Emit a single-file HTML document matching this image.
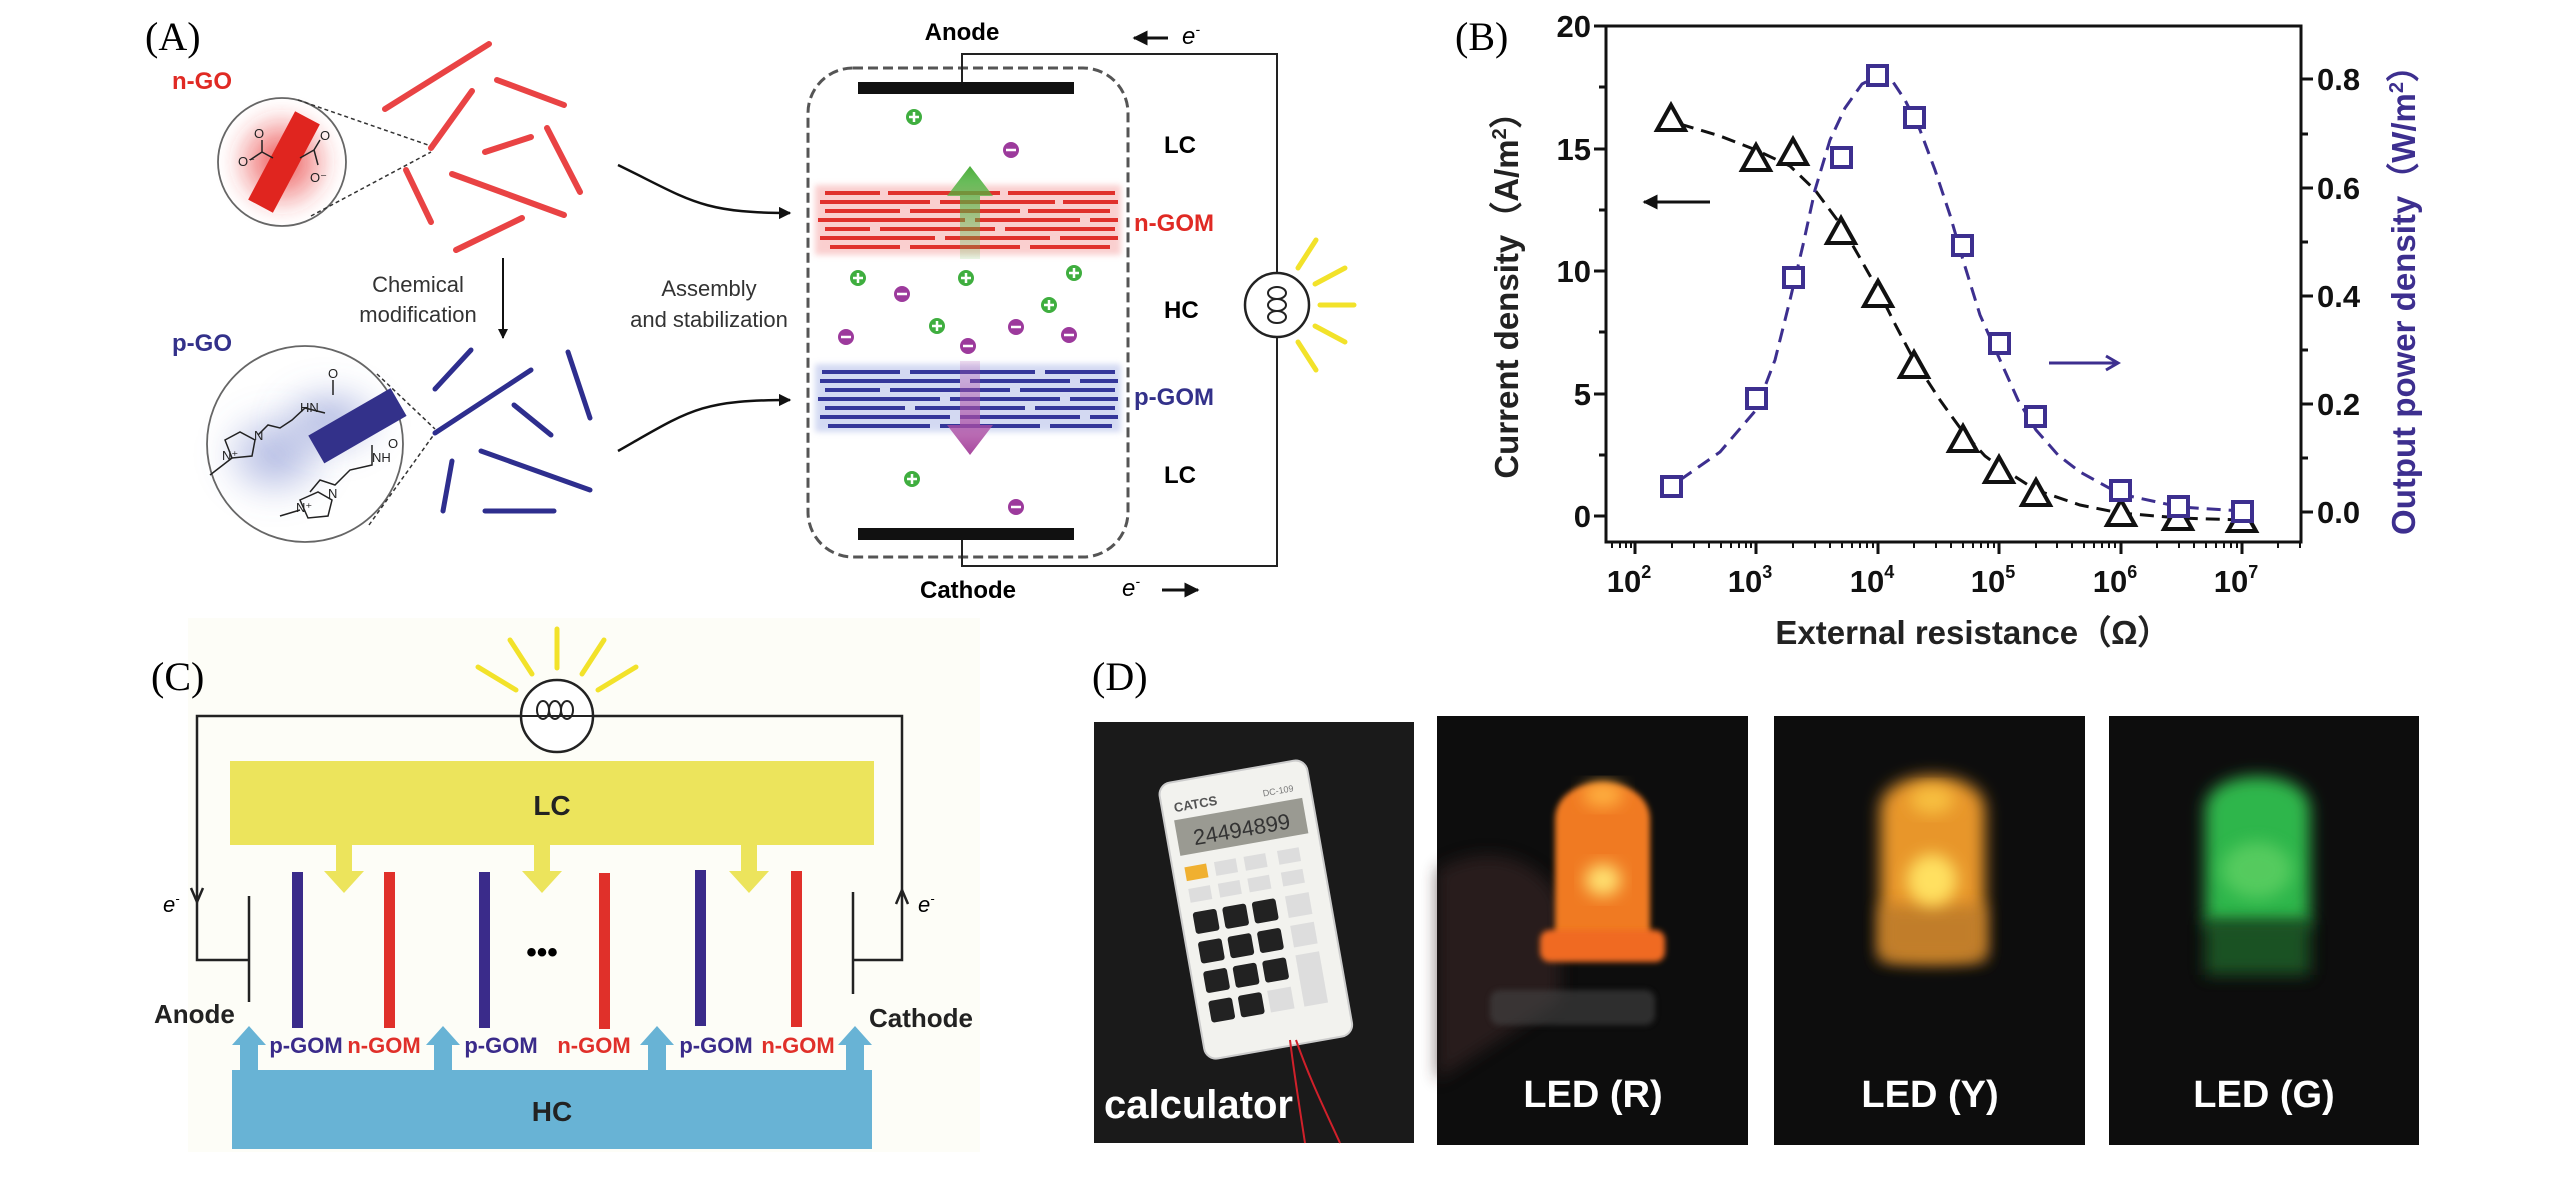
<!DOCTYPE html>
<html><head><meta charset="utf-8"><style>
html,body{margin:0;padding:0;background:#fff}
svg{display:block}
text{font-family:"Liberation Sans",Arial,sans-serif}
.serif{font-family:"Liberation Serif","Times New Roman",serif}
</style></head><body>
<svg width="2567" height="1181" viewBox="0 0 2567 1181" xmlns="http://www.w3.org/2000/svg">
<defs>
<filter id="bl3" x="-20%" y="-20%" width="140%" height="140%"><feGaussianBlur stdDeviation="3"/></filter>
<filter id="bl8" x="-30%" y="-30%" width="160%" height="160%"><feGaussianBlur stdDeviation="8"/></filter>
<filter id="bl14" x="-50%" y="-50%" width="200%" height="200%"><feGaussianBlur stdDeviation="14"/></filter>
<radialGradient id="redglow"><stop offset="0" stop-color="#e83030" stop-opacity=".85"/><stop offset="1" stop-color="#e83030" stop-opacity="0"/></radialGradient>
<radialGradient id="blueglow"><stop offset="0" stop-color="#6c7cc8" stop-opacity=".6"/><stop offset="1" stop-color="#6c7cc8" stop-opacity="0"/></radialGradient>
<linearGradient id="garr" x1="0" y1="1" x2="0" y2="0"><stop offset="0" stop-color="#5cbf4a" stop-opacity=".15"/><stop offset="1" stop-color="#4cae3c"/></linearGradient>
<linearGradient id="parr" x1="0" y1="0" x2="0" y2="1"><stop offset="0" stop-color="#b85ab0" stop-opacity=".2"/><stop offset="1" stop-color="#a8489f"/></linearGradient>
<marker id="ah" viewBox="0 0 10 10" refX="9" refY="5" markerWidth="5" markerHeight="5" orient="auto"><path d="M0,0 L10,5 L0,10 z" fill="#111"/></marker>
</defs>

<!-- ================= PANEL A ================= -->
<text x="145" y="50" class="serif" font-size="40">(A)</text>
<text x="172" y="89" font-size="24" font-weight="bold" fill="#e02a24">n-GO</text>
<text x="172" y="351" font-size="24" font-weight="bold" fill="#33318a">p-GO</text>

<!-- n-GO circle -->
<circle cx="282" cy="162" r="55" fill="url(#redglow)" filter="url(#bl8)"/>
<circle cx="282" cy="162" r="64" fill="none" stroke="#666" stroke-width="1.8"/>
<rect x="270" y="112" width="28" height="100" fill="#e0251f" transform="rotate(28 284 162)"/>
<g stroke="#222" stroke-width="1.5" fill="none"><path d="M250 160 L262 152 L262 140 M262 152 L273 158"/><path d="M300 158 L314 150 L320 140 M314 150 L318 165"/></g>
<g font-size="13" fill="#222"><text x="254" y="138">O</text><text x="238" y="166">O⁻</text><text x="320" y="140">O</text><text x="310" y="182">O⁻</text></g>
<line x1="298" y1="100" x2="431" y2="146" stroke="#333" stroke-width="1.5" stroke-dasharray="4,3"/>
<line x1="311" y1="216" x2="431" y2="152" stroke="#333" stroke-width="1.5" stroke-dasharray="4,3"/>
<!-- red sticks -->
<g stroke="#e8393a" stroke-width="6" stroke-linecap="round" opacity=".95">
<line x1="385" y1="109" x2="489" y2="44"/><line x1="497" y1="80" x2="564" y2="105"/>
<line x1="431" y1="148" x2="472" y2="91"/><line x1="485" y1="152" x2="531" y2="137"/>
<line x1="547" y1="128" x2="580" y2="192"/><line x1="406" y1="170" x2="431" y2="222"/>
<line x1="452" y1="174" x2="564" y2="215"/><line x1="456" y1="250" x2="522" y2="218"/>
</g>
<!-- chemical modification -->
<line x1="503" y1="258" x2="503" y2="338" stroke="#111" stroke-width="2" marker-end="url(#ah)"/>
<text x="418" y="292" font-size="22" text-anchor="middle" fill="#333">Chemical</text>
<text x="418" y="322" font-size="22" text-anchor="middle" fill="#333">modification</text>

<!-- p-GO circle -->
<ellipse cx="275" cy="455" rx="60" ry="50" fill="url(#blueglow)" filter="url(#bl14)"/>
<ellipse cx="330" cy="420" rx="60" ry="40" fill="url(#blueglow)" filter="url(#bl14)"/>
<circle cx="305" cy="444" r="98" fill="none" stroke="#666" stroke-width="1.8"/>
<rect x="310" y="410" width="95" height="32" fill="#33318a" transform="rotate(-30 357 426)"/>
<g stroke="#222" stroke-width="1.5" fill="none">
<path d="M325 413 L305 408 L292 420 L280 428 L268 425 L258 435"/>
<path d="M333 395 L333 380"/><path d="M372 445 L372 465 L350 470 L335 485 L320 480 L310 492"/>
<path d="M225 440 L240 432 L255 440 L252 456 L232 458 z"/>
<path d="M300 500 L318 492 L332 500 L328 516 L308 518 z"/>
<path d="M232 458 L210 475"/><path d="M300 510 L280 516"/>
</g>
<g font-size="13" fill="#222"><text x="300" y="412">HN</text><text x="328" y="378">O</text><text x="372" y="462">NH</text><text x="388" y="448">O</text><text x="222" y="460">N⁺</text><text x="254" y="440">N</text><text x="296" y="512">N⁺</text><text x="328" y="498">N</text></g>
<line x1="377" y1="374" x2="435" y2="429" stroke="#333" stroke-width="1.5" stroke-dasharray="4,3"/>
<line x1="369" y1="525" x2="435" y2="433" stroke="#333" stroke-width="1.5" stroke-dasharray="4,3"/>
<!-- blue sticks -->
<g stroke="#2e2e8e" stroke-width="5" stroke-linecap="round">
<line x1="435" y1="433" x2="531" y2="370"/><line x1="435" y1="389" x2="471" y2="350"/>
<line x1="568" y1="352" x2="590" y2="418"/><line x1="514" y1="405" x2="551" y2="435"/>
<line x1="481" y1="451" x2="590" y2="490"/><line x1="452" y1="461" x2="443" y2="511"/>
<line x1="485" y1="511" x2="554" y2="511"/>
</g>

<!-- assembly -->
<text x="709" y="296" font-size="22" text-anchor="middle" fill="#333">Assembly</text>
<text x="709" y="327" font-size="22" text-anchor="middle" fill="#333">and stabilization</text>
<path d="M618 165 C690 200 700 213 790 213" fill="none" stroke="#111" stroke-width="2.5" marker-end="url(#ah)"/>
<path d="M618 451 C690 410 700 400 790 400" fill="none" stroke="#111" stroke-width="2.5" marker-end="url(#ah)"/>

<!-- cell -->
<rect x="808" y="68" width="320" height="489" rx="45" fill="none" stroke="#555" stroke-width="3" stroke-dasharray="10,5"/>
<rect x="858" y="82" width="216" height="12" fill="#111"/>
<rect x="858" y="528" width="216" height="12" fill="#111"/>
<polyline points="962,82 962,54 1277,54 1277,273" fill="none" stroke="#222" stroke-width="2"/>
<polyline points="962,540 962,566 1277,566 1277,337" fill="none" stroke="#222" stroke-width="2"/>
<text x="962" y="40" font-size="24" font-weight="bold" text-anchor="middle">Anode</text>
<text x="968" y="598" font-size="24" font-weight="bold" text-anchor="middle">Cathode</text>
<line x1="1168" y1="38" x2="1134" y2="38" stroke="#111" stroke-width="3" marker-end="url(#ah)"/>
<text x="1182" y="44" font-size="24" font-style="italic">e<tspan font-size="14" dy="-10">-</tspan></text>
<text x="1122" y="596" font-size="24" font-style="italic">e<tspan font-size="14" dy="-10">-</tspan></text>
<line x1="1162" y1="590" x2="1198" y2="590" stroke="#111" stroke-width="3" marker-end="url(#ah)"/>
<!-- lamp A -->
<circle cx="1277" cy="305" r="32" fill="#fff" stroke="#222" stroke-width="2.5"/>
<g fill="none" stroke="#222" stroke-width="2"><ellipse cx="1277" cy="293" rx="9" ry="6"/><ellipse cx="1277" cy="305" rx="9" ry="6"/><ellipse cx="1277" cy="317" rx="9" ry="6"/></g>
<g stroke="#f2e22a" stroke-width="5" stroke-linecap="round">
<line x1="1298" y1="268" x2="1316" y2="240"/><line x1="1315" y1="284" x2="1345" y2="268"/><line x1="1320" y1="305" x2="1354" y2="305"/><line x1="1315" y1="326" x2="1345" y2="342"/><line x1="1298" y1="342" x2="1316" y2="370"/>
</g>
<text x="1164" y="153" font-size="24" font-weight="bold">LC</text>
<text x="1164" y="318" font-size="24" font-weight="bold">HC</text>
<text x="1164" y="483" font-size="24" font-weight="bold">LC</text>
<text x="1134" y="231" font-size="24" font-weight="bold" fill="#e02a24">n-GOM</text>
<text x="1134" y="405" font-size="24" font-weight="bold" fill="#33318a">p-GOM</text>

<!-- n-GOM stack -->
<rect x="815" y="185" width="306" height="70" fill="#f6a9a9" opacity=".55" filter="url(#bl3)"/>
<g stroke="#e0302c" stroke-width="4">
<line x1="825" y1="193" x2="880" y2="193"/><line x1="888" y1="193" x2="1000" y2="193"/><line x1="1008" y1="193" x2="1115" y2="193"/>
<line x1="820" y1="202" x2="930" y2="202"/><line x1="940" y1="202" x2="1055" y2="202"/><line x1="1063" y1="202" x2="1118" y2="202"/>
<line x1="825" y1="211" x2="900" y2="211"/><line x1="910" y1="211" x2="1020" y2="211"/><line x1="1028" y1="211" x2="1110" y2="211"/>
<line x1="818" y1="220" x2="965" y2="220"/><line x1="975" y1="220" x2="1080" y2="220"/><line x1="1090" y1="220" x2="1118" y2="220"/>
<line x1="825" y1="229" x2="870" y2="229"/><line x1="880" y1="229" x2="995" y2="229"/><line x1="1005" y1="229" x2="1115" y2="229"/>
<line x1="820" y1="238" x2="935" y2="238"/><line x1="945" y1="238" x2="1050" y2="238"/><line x1="1060" y1="238" x2="1118" y2="238"/>
<line x1="830" y1="247" x2="900" y2="247"/><line x1="910" y1="247" x2="1020" y2="247"/><line x1="1030" y1="247" x2="1110" y2="247"/>
</g>
<!-- p-GOM stack -->
<rect x="815" y="364" width="306" height="68" fill="#b7c1ea" opacity=".6" filter="url(#bl3)"/>
<g stroke="#34369a" stroke-width="4">
<line x1="822" y1="372" x2="900" y2="372"/><line x1="910" y1="372" x2="1035" y2="372"/><line x1="1045" y1="372" x2="1115" y2="372"/>
<line x1="820" y1="381" x2="960" y2="381"/><line x1="970" y1="381" x2="1070" y2="381"/><line x1="1080" y1="381" x2="1118" y2="381"/>
<line x1="825" y1="390" x2="880" y2="390"/><line x1="890" y1="390" x2="1010" y2="390"/><line x1="1020" y1="390" x2="1115" y2="390"/>
<line x1="818" y1="399" x2="940" y2="399"/><line x1="950" y1="399" x2="1060" y2="399"/><line x1="1070" y1="399" x2="1118" y2="399"/>
<line x1="825" y1="408" x2="905" y2="408"/><line x1="915" y1="408" x2="1025" y2="408"/><line x1="1035" y1="408" x2="1115" y2="408"/>
<line x1="820" y1="417" x2="950" y2="417"/><line x1="960" y1="417" x2="1080" y2="417"/><line x1="1090" y1="417" x2="1118" y2="417"/>
<line x1="828" y1="426" x2="930" y2="426"/><line x1="940" y1="426" x2="1040" y2="426"/><line x1="1050" y1="426" x2="1112" y2="426"/>
</g>
<!-- green / purple arrows -->
<path d="M960 259 L960 196 L947 196 L970 166 L993 196 L980 196 L980 259 z" fill="url(#garr)"/>
<path d="M960 361 L960 425 L947 425 L970 455 L993 425 L980 425 L980 361 z" fill="url(#parr)"/>
<!-- ions -->
<g fill="#3fae3f">
<circle cx="914" cy="117" r="8"/><circle cx="858" cy="278" r="8"/><circle cx="966" cy="278" r="8"/><circle cx="1074" cy="273" r="8"/><circle cx="1049" cy="305" r="8"/><circle cx="937" cy="326" r="8"/><circle cx="912" cy="479" r="8"/>
</g>
<g stroke="#fff" stroke-width="2.5">
<path d="M909 117h10M914 112v10M853 278h10M858 273v10M961 278h10M966 273v10M1069 273h10M1074 268v10M1044 305h10M1049 300v10M932 326h10M937 321v10M907 479h10M912 474v10"/>
</g>
<g fill="#9c3a9c">
<circle cx="1011" cy="150" r="8"/><circle cx="902" cy="294" r="8"/><circle cx="846" cy="337" r="8"/><circle cx="1016" cy="327" r="8"/><circle cx="1069" cy="335" r="8"/><circle cx="968" cy="346" r="8"/><circle cx="1016" cy="507" r="8"/>
</g>
<g stroke="#fff" stroke-width="2.5">
<path d="M1006 150h10M897 294h10M841 337h10M1011 327h10M1064 335h10M963 346h10M1011 507h10"/>
</g>

<!-- ================= PANEL B ================= -->
<text x="1455" y="50" class="serif" font-size="40">(B)</text>
<rect x="1606" y="26" width="695" height="516" fill="none" stroke="#111" stroke-width="3"/>
<!-- left ticks -->
<g stroke="#111" stroke-width="3">
<path d="M1594 26h12M1594 149h12M1594 271h12M1594 394h12M1594 516h12"/>
<path d="M1599 87h7M1599 210h7M1599 332h7M1599 455h7"/>
<path d="M2301 79h12M2301 188h12M2301 296h12M2301 404h12M2301 512h12"/>
<path d="M2301 134h7M2301 242h7M2301 350h7M2301 458h7"/>
<path d="M1635 542v12M1756 542v12M1878 542v12M1999 542v12M2121 542v12M2242 542v12"/>
</g>
<g stroke="#111" stroke-width="2">
<path d="M1612 542v6M1620 542v6M1626 542v6M1631 542v6M1672 542v6M1694 542v6M1709 542v6M1721 542v6M1731 542v6M1739 542v6M1746 542v6M1751 542v6M1793 542v6M1815 542v6M1830 542v6M1842 542v6M1852 542v6M1860 542v6M1867 542v6M1873 542v6M1914 542v6M1936 542v6M1951 542v6M1963 542v6M1973 542v6M1981 542v6M1988 542v6M1994 542v6M2036 542v6M2057 542v6M2072 542v6M2084 542v6M2094 542v6M2102 542v6M2109 542v6M2115 542v6M2157 542v6M2179 542v6M2194 542v6M2206 542v6M2216 542v6M2224 542v6M2231 542v6M2237 542v6M2278 542v6M2300 542v6"/>
</g>
<g font-size="31" font-weight="bold" text-anchor="end" fill="#111">
<text x="1591" y="37">20</text><text x="1591" y="160">15</text><text x="1591" y="282">10</text><text x="1591" y="405">5</text><text x="1591" y="527">0</text>
</g>
<g font-size="31" font-weight="bold" fill="#111">
<text x="2317" y="90">0.8</text><text x="2317" y="199">0.6</text><text x="2317" y="307">0.4</text><text x="2317" y="415">0.2</text><text x="2317" y="523">0.0</text>
</g>
<g font-size="31" font-weight="bold" text-anchor="middle" fill="#111">
<text x="1629" y="592">10<tspan font-size="18" dy="-14">2</tspan></text>
<text x="1750" y="592">10<tspan font-size="18" dy="-14">3</tspan></text>
<text x="1872" y="592">10<tspan font-size="18" dy="-14">4</tspan></text>
<text x="1993" y="592">10<tspan font-size="18" dy="-14">5</tspan></text>
<text x="2115" y="592">10<tspan font-size="18" dy="-14">6</tspan></text>
<text x="2236" y="592">10<tspan font-size="18" dy="-14">7</tspan></text>
</g>
<text x="1973" y="644" font-size="33" font-weight="bold" text-anchor="middle" fill="#222">External resistance（Ω）</text>
<text transform="translate(1518 287) rotate(-90)" font-size="33" font-weight="bold" text-anchor="middle" fill="#222">Current density（A/m<tspan font-size="20" dy="-12">2</tspan><tspan dy="12">）</tspan></text>
<text transform="translate(2415 292) rotate(-90)" font-size="33" font-weight="bold" text-anchor="middle" fill="#3d2f8f">Output power density（W/m<tspan font-size="20" dy="-12">2</tspan><tspan dy="12">）</tspan></text>
<!-- fits -->
<polyline points="1680,124 1720,136 1756,150 1790,166 1815,190 1841,225 1860,258 1878,290 1896,326 1914,360 1940,400 1963,432 1985,456 2000,467 2036,490 2080,505 2120,513 2180,518 2242,520" fill="none" stroke="#111" stroke-width="3" stroke-dasharray="14,8"/>
<polyline points="1680,480 1720,452 1756,410 1775,360 1790,300 1803,245 1815,190 1830,140 1845,108 1862,84 1878,76 1893,82 1905,100 1920,130 1935,170 1950,215 1963,260 1980,315 2000,360 2018,400 2036,430 2058,455 2080,472 2120,494 2180,507 2242,511" fill="none" stroke="#3d2f8f" stroke-width="3" stroke-dasharray="14,8"/>
<!-- triangles -->
<g fill="#fff" stroke="#111" stroke-width="4" stroke-linejoin="miter">
<path d="M1671 105 l14 25 h-28 z"/><path d="M1756 145 l14 25 h-28 z"/><path d="M1793 139 l14 25 h-28 z"/><path d="M1841 218 l14 25 h-28 z"/><path d="M1878 281 l14 25 h-28 z"/><path d="M1914 352 l14 25 h-28 z"/><path d="M1963 426 l14 25 h-28 z"/><path d="M1999 457 l14 25 h-28 z"/><path d="M2036 480 l14 25 h-28 z"/><path d="M2121 500 l14 25 h-28 z"/><path d="M2178 504 l14 25 h-28 z"/><path d="M2242 506 l14 25 h-28 z"/>
</g>
<!-- squares -->
<g fill="#fff" stroke="#3d2f8f" stroke-width="4">
<rect x="1662" y="477" width="19" height="19"/><rect x="1747" y="389" width="19" height="19"/><rect x="1784" y="268" width="19" height="19"/><rect x="1832" y="148" width="19" height="19"/><rect x="1868" y="66" width="19" height="19"/><rect x="1905" y="108" width="19" height="19"/><rect x="1953" y="236" width="19" height="19"/><rect x="1990" y="334" width="19" height="19"/><rect x="2026" y="407" width="19" height="19"/><rect x="2111" y="481" width="19" height="19"/><rect x="2169" y="497" width="19" height="19"/><rect x="2233" y="502" width="19" height="19"/>
</g>
<line x1="1710" y1="202" x2="1644" y2="202" stroke="#111" stroke-width="3" marker-end="url(#ah)"/>
<line x1="2049" y1="363" x2="2117" y2="363" stroke="#3d2f8f" stroke-width="3"/>
<path d="M2106 356 L2118 363 L2106 370" fill="none" stroke="#3d2f8f" stroke-width="3"/>

<!-- ================= PANEL C ================= -->
<rect x="188" y="618" width="792" height="534" fill="#fdfdf7"/>
<text x="151" y="690" class="serif" font-size="40">(C)</text>
<g stroke="#f2e22a" stroke-width="5" stroke-linecap="round">
<line x1="478" y1="667" x2="516" y2="690"/><line x1="510" y1="640" x2="532" y2="674"/><line x1="557" y1="629" x2="557" y2="668"/><line x1="604" y1="640" x2="582" y2="674"/><line x1="636" y1="667" x2="598" y2="690"/>
</g>
<polyline points="249,960 197,960 197,716 902,716 902,960 853,960" fill="none" stroke="#222" stroke-width="2.5"/>
<circle cx="557" cy="716" r="36" fill="#fff" stroke="#222" stroke-width="2.5"/>
<line x1="521" y1="716" x2="593" y2="716" stroke="#222" stroke-width="2"/>
<g fill="none" stroke="#222" stroke-width="2"><ellipse cx="543" cy="710" rx="6" ry="9"/><ellipse cx="555" cy="710" rx="6" ry="9"/><ellipse cx="567" cy="710" rx="6" ry="9"/></g>
<path d="M191 888 L197 902 L203 888" fill="none" stroke="#222" stroke-width="2.5"/>
<path d="M896 904 L902 890 L908 904" fill="none" stroke="#222" stroke-width="2.5"/>
<line x1="249" y1="896" x2="249" y2="1002" stroke="#222" stroke-width="2.5"/>
<line x1="853" y1="892" x2="853" y2="994" stroke="#222" stroke-width="2.5"/>
<text x="163" y="912" font-size="22" font-style="italic">e<tspan font-size="13" dy="-9">-</tspan></text>
<text x="918" y="912" font-size="22" font-style="italic">e<tspan font-size="13" dy="-9">-</tspan></text>
<text x="154" y="1023" font-size="26" font-weight="bold" fill="#222">Anode</text>
<text x="869" y="1027" font-size="26" font-weight="bold" fill="#222">Cathode</text>
<rect x="230" y="761" width="644" height="84" fill="#ece45c"/>
<text x="552" y="815" font-size="28" font-weight="bold" text-anchor="middle" fill="#222">LC</text>
<g fill="#ece45c">
<path d="M336 845 h16 v26 h12 l-20 22 l-20 -22 h12 z"/>
<path d="M534 845 h16 v26 h12 l-20 22 l-20 -22 h12 z"/>
<path d="M741 845 h16 v26 h12 l-20 22 l-20 -22 h12 z"/>
</g>
<g fill="#3a2b8a"><rect x="292" y="872" width="11" height="156"/><rect x="479" y="872" width="11" height="156"/><rect x="695" y="870" width="11" height="156"/></g>
<g fill="#e0302a"><rect x="384" y="872" width="11" height="156"/><rect x="599" y="873" width="11" height="156"/><rect x="791" y="871" width="11" height="156"/></g>
<text x="542" y="962" font-size="30" font-weight="bold" text-anchor="middle">•••</text>
<!-- HC -->
<path d="M232 1149 V1070 H240 V1045 H232 L249 1026 L266 1045 H258 V1070 H434 V1045 H426 L443 1026 L460 1045 H452 V1070 H648 V1045 H640 L657 1026 L674 1045 H666 V1070 H846 V1045 H838 L855 1026 L872 1045 H864 V1070 H872 V1149 Z" fill="#68b3d5"/>
<text x="552" y="1121" font-size="28" font-weight="bold" text-anchor="middle" fill="#222">HC</text>
<g font-size="22" font-weight="bold" text-anchor="middle">
<text x="306" y="1053" fill="#3a2b8a">p-GOM</text><text x="384" y="1053" fill="#e0302a">n-GOM</text>
<text x="501" y="1053" fill="#3a2b8a">p-GOM</text><text x="594" y="1053" fill="#e0302a">n-GOM</text>
<text x="716" y="1053" fill="#3a2b8a">p-GOM</text><text x="798" y="1053" fill="#e0302a">n-GOM</text>
</g>

<!-- ================= PANEL D ================= -->
<text x="1092" y="690" class="serif" font-size="40">(D)</text>
<!-- calculator photo -->
<rect x="1094" y="722" width="320" height="421" fill="#141414"/>
<rect x="1094" y="722" width="320" height="421" fill="#2a2a2a" opacity=".3"/>
<g transform="rotate(-10 1253 905)">
<rect x="1180" y="770" width="150" height="280" rx="12" fill="#f2f2ee" stroke="#ccc" stroke-width="2"/>
<text x="1192" y="800" font-size="13" font-weight="bold" fill="#555">CATCS</text>
<text x="1282" y="800" font-size="9" fill="#777">DC-109</text>
<rect x="1190" y="808" width="130" height="36" fill="#9a9a92"/>
<text x="1255" y="836" font-size="22" text-anchor="middle" fill="#333" font-family="Liberation Mono">24494899</text>
<g fill="#ddd"><rect x="1192" y="856" width="22" height="14" fill="#f0b030"/><rect x="1222" y="856" width="22" height="14"/><rect x="1252" y="856" width="22" height="14"/><rect x="1286" y="856" width="22" height="14"/>
<rect x="1192" y="878" width="22" height="14"/><rect x="1222" y="878" width="22" height="14"/><rect x="1252" y="878" width="22" height="14"/><rect x="1286" y="878" width="22" height="14"/></g>
<g fill="#222"><rect x="1192" y="902" width="24" height="22" rx="3"/><rect x="1222" y="902" width="24" height="22" rx="3"/><rect x="1252" y="902" width="24" height="22" rx="3"/>
<rect x="1192" y="932" width="24" height="22" rx="3"/><rect x="1222" y="932" width="24" height="22" rx="3"/><rect x="1252" y="932" width="24" height="22" rx="3"/>
<rect x="1192" y="962" width="24" height="22" rx="3"/><rect x="1222" y="962" width="24" height="22" rx="3"/><rect x="1252" y="962" width="24" height="22" rx="3"/>
<rect x="1192" y="992" width="24" height="22" rx="3"/><rect x="1222" y="992" width="24" height="22" rx="3"/></g>
<g fill="#ddd"><rect x="1286" y="902" width="24" height="22"/><rect x="1286" y="932" width="24" height="22"/><rect x="1286" y="962" width="24" height="52"/><rect x="1252" y="992" width="24" height="22"/></g>
</g>
<path d="M1290 1040 C1295 1080 1300 1110 1305 1143 M1296 1040 C1310 1080 1325 1110 1340 1143" fill="none" stroke="#d0202a" stroke-width="2"/>
<text x="1104" y="1118" font-size="40" font-weight="bold" fill="#fff">calculator</text>

<!-- LED R -->
<rect x="1437" y="716" width="311" height="429" fill="#0d0d0d"/>
<path d="M1437 870 C1490 840 1540 860 1560 900 L1560 1000 L1437 1080 Z" fill="#3a2828" opacity=".6" filter="url(#bl8)"/>
<rect x="1490" y="990" width="165" height="35" rx="10" fill="#444" opacity=".6" filter="url(#bl3)"/>
<path d="M1555 950 V820 C1555 770 1650 770 1650 820 V950 Z" fill="#f07a24" filter="url(#bl3)"/>
<rect x="1540" y="930" width="125" height="32" rx="10" fill="#f06a20" filter="url(#bl3)"/>
<ellipse cx="1603" cy="880" rx="18" ry="16" fill="#ffe070" filter="url(#bl8)"/>
<ellipse cx="1603" cy="795" rx="20" ry="12" fill="#ffb040" filter="url(#bl8)"/>
<text x="1593" y="1107" font-size="38" font-weight="bold" text-anchor="middle" fill="#fff">LED (R)</text>
<!-- LED Y -->
<rect x="1774" y="716" width="311" height="429" fill="#0d0d0d"/>
<path d="M1880 955 V810 C1880 765 1985 765 1985 810 V955 C1985 965 1880 965 1880 955 Z" fill="#e8962c" filter="url(#bl8)"/>
<rect x="1880" y="905" width="105" height="55" fill="#b8782a" opacity=".8" filter="url(#bl8)"/>
<ellipse cx="1932" cy="880" rx="25" ry="26" fill="#ffe060" filter="url(#bl8)"/>
<ellipse cx="1932" cy="800" rx="22" ry="14" fill="#f8c040" filter="url(#bl8)"/>
<text x="1930" y="1107" font-size="38" font-weight="bold" text-anchor="middle" fill="#fff">LED (Y)</text>
<!-- LED G -->
<rect x="2109" y="716" width="310" height="429" fill="#0d0d0d"/>
<path d="M2205 925 V810 C2205 765 2310 765 2310 810 V925 Z" fill="#2fb64c" filter="url(#bl8)"/>
<rect x="2205" y="920" width="105" height="55" fill="#1a5a28" opacity=".9" filter="url(#bl8)"/>
<ellipse cx="2257" cy="870" rx="35" ry="28" fill="#5ed064" opacity=".8" filter="url(#bl8)"/>
<text x="2264" y="1107" font-size="38" font-weight="bold" text-anchor="middle" fill="#fff">LED (G)</text>
</svg>
</body></html>
